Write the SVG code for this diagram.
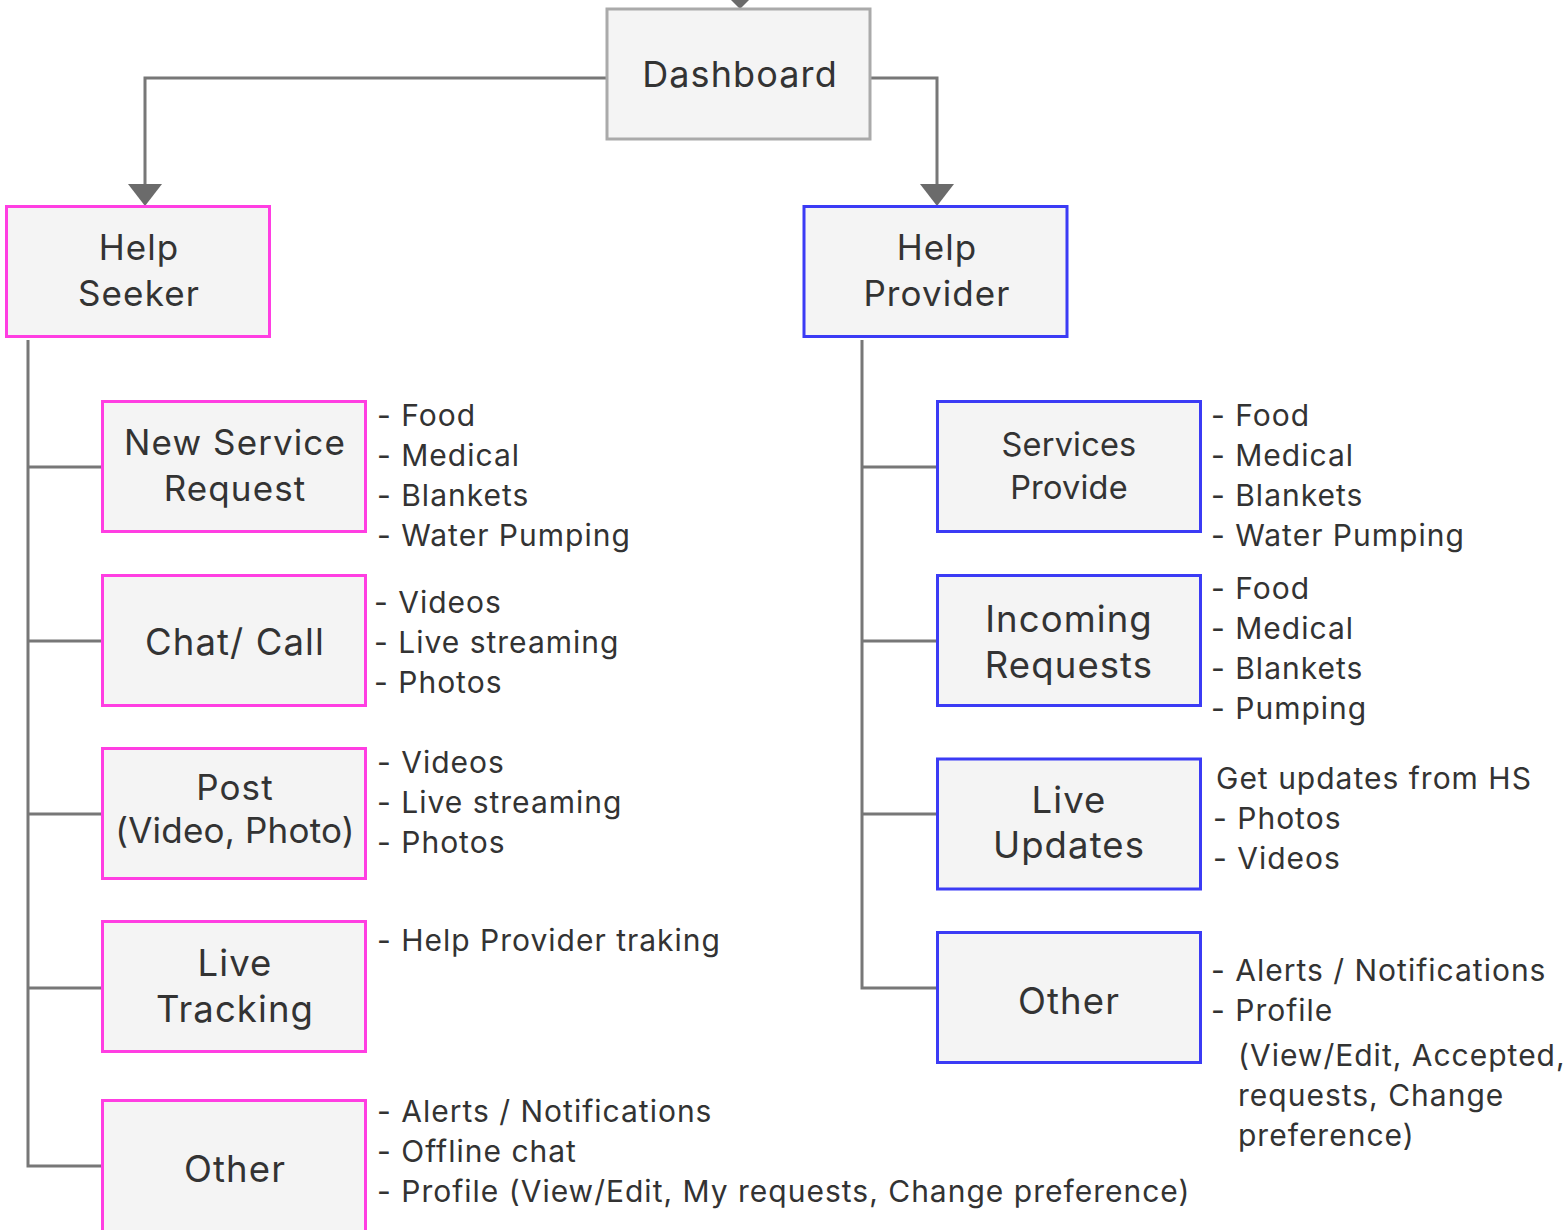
<svg xmlns="http://www.w3.org/2000/svg" width="1566" height="1230" viewBox="0 0 1566 1230">
<style>
text{font-family:Inter,"Liberation Sans",sans-serif;fill:#333;}
.lbl{font-size:35px;text-anchor:middle;letter-spacing:1.1px;}
.big{font-size:36.5px;}
.lst{font-size:30px;letter-spacing:1px;}
.box{fill:#f4f4f4;stroke-width:3;}
.gray{stroke:#aaaaaa;}
.pink{stroke:#ff3ee2;}
.blue{stroke:#3b3bf5;}
.conn{fill:none;stroke:#777;stroke-width:3;}
.ah{fill:#6b6b6b;}
</style>
<rect width="1566" height="1230" fill="#fff"/>
<g id="connectors">
<path class="conn" d="M607 78 H145 V190"/>
<polygon class="ah" points="128,184 162,184 145,206"/>
<path class="conn" d="M870 78 H937 V190"/>
<polygon class="ah" points="920,184 954,184 937,206"/>
<polygon class="ah" points="731,0 749,0 740,9"/>
<path class="conn" d="M28 340 V1166 H102 M28 467 H102 M28 641 H102 M28 814 H102 M28 988 H102"/>
<path class="conn" d="M862 340 V988 H937 M862 467 H937 M862 641 H937 M862 814 H937"/>
</g>
<g id="dashboard">
<rect class="box gray" x="607" y="9" width="263" height="130"/>
<text class="lbl" x="740" y="87" style="font-size:36px">Dashboard</text>
</g>
<g id="help-seeker">
<rect class="box pink" x="6.5" y="206.5" width="263" height="130"/>
<text class="lbl" x="139" y="260">Help</text>
<text class="lbl" x="139" y="306">Seeker</text>
</g>
<g id="help-provider">
<rect class="box blue" x="804" y="206.5" width="263" height="130"/>
<text class="lbl" x="937" y="260">Help</text>
<text class="lbl" x="937" y="306">Provider</text>
</g>
<g id="new-service-request">
<rect class="box pink" x="102.5" y="401.5" width="263" height="130"/>
<text class="lbl" x="235" y="455">New Service</text>
<text class="lbl" x="235" y="501">Request</text>
<text class="lst" x="377" y="426">- Food</text>
<text class="lst" x="377" y="466">- Medical</text>
<text class="lst" x="377" y="506">- Blankets</text>
<text class="lst" x="377" y="546">- Water Pumping</text>
</g>
<g id="chat-call">
<rect class="box pink" x="102.5" y="575.5" width="263" height="130"/>
<text class="lbl big" x="235" y="655">Chat/ Call</text>
<text class="lst" x="374" y="613">- Videos</text>
<text class="lst" x="374" y="653">- Live streaming</text>
<text class="lst" x="374" y="693">- Photos</text>
</g>
<g id="post">
<rect class="box pink" x="102.5" y="748.5" width="263" height="130"/>
<text class="lbl" x="235" y="800">Post</text>
<text class="lbl" x="235" y="843" style="letter-spacing:0.2px">(Video, Photo)</text>
<text class="lst" x="377" y="773">- Videos</text>
<text class="lst" x="377" y="813">- Live streaming</text>
<text class="lst" x="377" y="853">- Photos</text>
</g>
<g id="live-tracking">
<rect class="box pink" x="102.5" y="921.5" width="263" height="130"/>
<text class="lbl big" x="235" y="976">Live</text>
<text class="lbl big" x="235" y="1022">Tracking</text>
<text class="lst" x="377" y="951">- Help Provider traking</text>
</g>
<g id="other-seeker">
<rect class="box pink" x="102.5" y="1100.5" width="263" height="140"/>
<text class="lbl big" x="235" y="1182">Other</text>
<text class="lst" x="377" y="1122">- Alerts / Notifications</text>
<text class="lst" x="377" y="1162">- Offline chat</text>
<text class="lst" x="377" y="1202">- Profile (View/Edit, My requests, Change preference)</text>
</g>
<g id="services-provide">
<rect class="box blue" x="937.5" y="401.5" width="263" height="130"/>
<text class="lbl" x="1069" y="456" style="font-size:32.5px;letter-spacing:0.2px">Services</text>
<text class="lbl" x="1069" y="499" style="font-size:32.5px;letter-spacing:0.2px">Provide</text>
<text class="lst" x="1211" y="426">- Food</text>
<text class="lst" x="1211" y="466">- Medical</text>
<text class="lst" x="1211" y="506">- Blankets</text>
<text class="lst" x="1211" y="546">- Water Pumping</text>
</g>
<g id="incoming-requests">
<rect class="box blue" x="937.5" y="575.5" width="263" height="130"/>
<text class="lbl big" x="1069" y="632">Incoming</text>
<text class="lbl big" x="1069" y="678">Requests</text>
<text class="lst" x="1211" y="599">- Food</text>
<text class="lst" x="1211" y="639">- Medical</text>
<text class="lst" x="1211" y="679">- Blankets</text>
<text class="lst" x="1211" y="719">- Pumping</text>
</g>
<g id="live-updates">
<rect class="box blue" x="937.5" y="759" width="263" height="130"/>
<text class="lbl big" x="1069" y="813">Live</text>
<text class="lbl big" x="1069" y="858">Updates</text>
<text class="lst" x="1216" y="789">Get updates from HS</text>
<text class="lst" x="1213" y="829">- Photos</text>
<text class="lst" x="1213" y="869">- Videos</text>
</g>
<g id="other-provider">
<rect class="box blue" x="937.5" y="932.5" width="263" height="130"/>
<text class="lbl big" x="1069" y="1014">Other</text>
<text class="lst" x="1211" y="981">- Alerts / Notifications</text>
<text class="lst" x="1211" y="1021">- Profile</text>
<text class="lst" x="1238" y="1066">(View/Edit, Accepted,</text>
<text class="lst" x="1238" y="1106">requests, Change</text>
<text class="lst" x="1238" y="1146">preference)</text>
</g>
</svg>
